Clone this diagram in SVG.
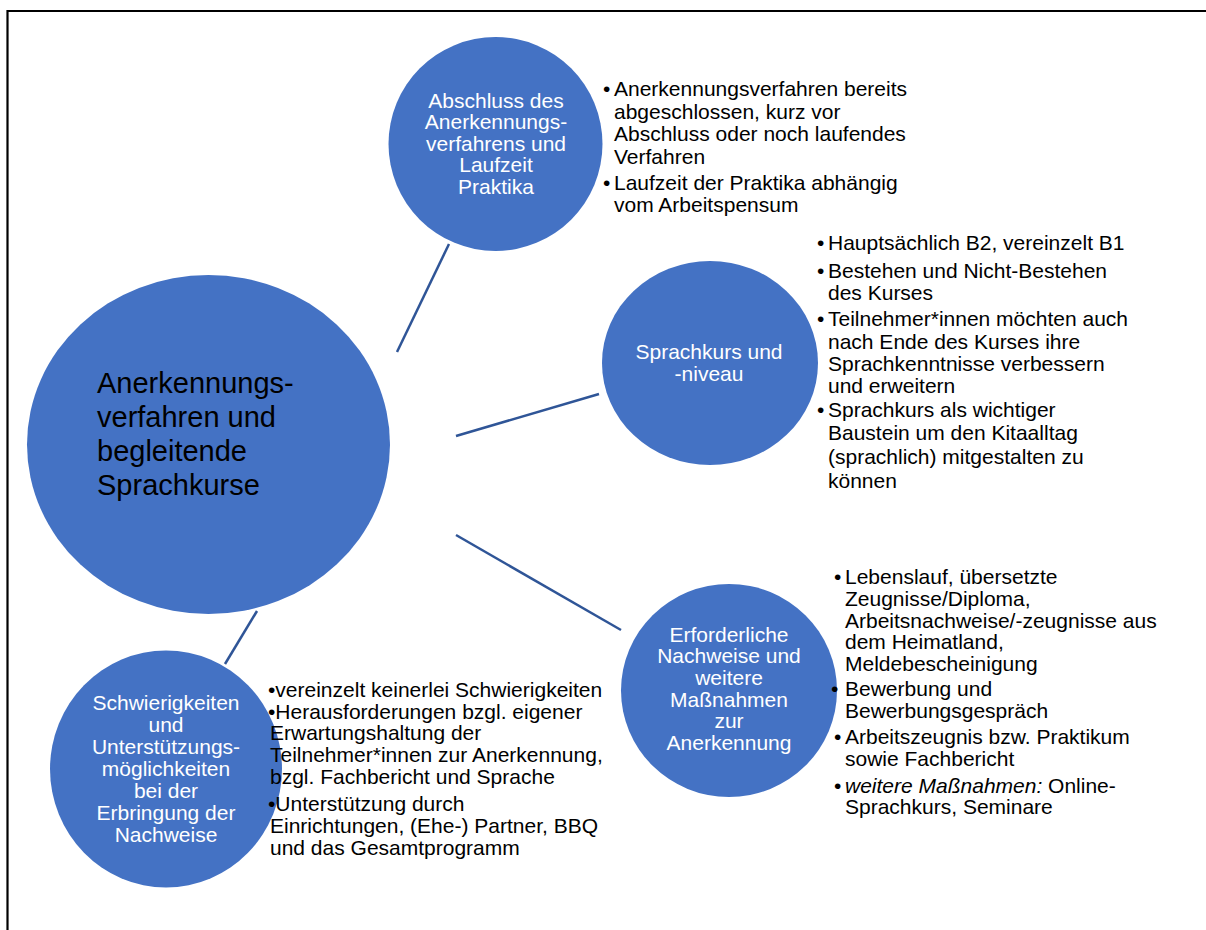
<svg xmlns="http://www.w3.org/2000/svg" width="1206" height="930" viewBox="0 0 1206 930">
<style>
.node{fill:#4472C4;}
.ct{font-family:"Liberation Sans",Arial,sans-serif;font-size:21px;fill:#ffffff;text-anchor:middle;}
.main{font-family:"Liberation Sans",Arial,sans-serif;font-size:29px;fill:#000000;}
.lt{font-family:"Liberation Sans",Arial,sans-serif;font-size:21px;fill:#000000;}
.edge{stroke:#2F5597;stroke-width:2.5;fill:none;}
</style>
<rect width="1206" height="930" fill="#ffffff"/>
<path d="M7.5,930 V11 H1206" stroke="#000000" stroke-width="2.2" fill="none"/>
<g id="connectors">
<line class="edge" x1="397" y1="352" x2="449" y2="244"/>
<line class="edge" x1="456" y1="436" x2="599" y2="394"/>
<line class="edge" x1="456" y1="535" x2="621" y2="630"/>
<line class="edge" x1="257" y1="611" x2="225" y2="664"/>
</g>
<g id="main">
<ellipse class="node" cx="208.5" cy="444.5" rx="181.5" ry="169.5"/>
<text class="main" x="97" y="393">Anerkennungs-</text>
<text class="main" x="97" y="427">verfahren und</text>
<text class="main" x="97" y="461">begleitende</text>
<text class="main" x="97" y="495">Sprachkurse</text>
</g>
<g id="abschluss">
<circle class="node" cx="495.5" cy="144" r="107"/>
<text class="ct" x="496" y="107.5">Abschluss des</text>
<text class="ct" x="496" y="129">Anerkennungs-</text>
<text class="ct" x="496" y="150.5">verfahrens und</text>
<text class="ct" x="496" y="172">Laufzeit</text>
<text class="ct" x="496" y="193.5">Praktika</text>
</g>
<g id="abschluss-text">
<text class="lt" x="603" y="96">•</text>
<text class="lt" x="614" y="96">Anerkennungsverfahren bereits</text>
<text class="lt" x="614" y="118.5">abgeschlossen, kurz vor</text>
<text class="lt" x="614" y="141">Abschluss oder noch laufendes</text>
<text class="lt" x="614" y="163.5">Verfahren</text>
<text class="lt" x="603" y="189.5">•</text>
<text class="lt" x="614" y="189.5">Laufzeit der Praktika abhängig</text>
<text class="lt" x="614" y="212">vom Arbeitspensum</text>
</g>
<g id="sprachkurs">
<ellipse class="node" cx="710" cy="363" rx="108" ry="102"/>
<text class="ct" x="709" y="359">Sprachkurs und</text>
<text class="ct" x="709" y="380.5">-niveau</text>
</g>
<g id="sprachkurs-text">
<text class="lt" x="817" y="250">•</text>
<text class="lt" x="828" y="250">Hauptsächlich B2, vereinzelt B1</text>
<text class="lt" x="817" y="278">•</text>
<text class="lt" x="828" y="278">Bestehen und Nicht-Bestehen</text>
<text class="lt" x="828" y="300">des Kurses</text>
<text class="lt" x="817" y="326">•</text>
<text class="lt" x="828" y="326">Teilnehmer*innen möchten auch</text>
<text class="lt" x="828" y="348.5">nach Ende des Kurses ihre</text>
<text class="lt" x="828" y="371">Sprachkenntnisse verbessern</text>
<text class="lt" x="828" y="393">und erweitern</text>
<text class="lt" x="817" y="417">•</text>
<text class="lt" x="828" y="417">Sprachkurs als wichtiger</text>
<text class="lt" x="828" y="440">Baustein um den Kitaalltag</text>
<text class="lt" x="828" y="464">(sprachlich) mitgestalten zu</text>
<text class="lt" x="828" y="488">können</text>
</g>
<g id="nachweise">
<ellipse class="node" cx="729" cy="690.5" rx="108" ry="106.5"/>
<text class="ct" x="729" y="641.5">Erforderliche</text>
<text class="ct" x="729" y="663">Nachweise und</text>
<text class="ct" x="729" y="684.5">weitere</text>
<text class="ct" x="729" y="706.5">Maßnahmen</text>
<text class="ct" x="729" y="728">zur</text>
<text class="ct" x="729" y="750">Anerkennung</text>
</g>
<g id="nachweise-text">
<text class="lt" x="834" y="584">•</text>
<text class="lt" x="845" y="584">Lebenslauf, übersetzte</text>
<text class="lt" x="845" y="606">Zeugnisse/Diploma,</text>
<text class="lt" x="845" y="627.5">Arbeitsnachweise/-zeugnisse aus</text>
<text class="lt" x="845" y="649">dem Heimatland,</text>
<text class="lt" x="845" y="671">Meldebescheinigung</text>
<text class="lt" x="831" y="696">•</text>
<text class="lt" x="845" y="696">Bewerbung und</text>
<text class="lt" x="845" y="718">Bewerbungsgespräch</text>
<text class="lt" x="834" y="744">•</text>
<text class="lt" x="845" y="744">Arbeitszeugnis bzw. Praktikum</text>
<text class="lt" x="845" y="766">sowie Fachbericht</text>
<text class="lt" x="834" y="793">•</text>
<text class="lt" x="845" y="793"><tspan font-style="italic">weitere Maßnahmen:</tspan> Online-</text>
<text class="lt" x="845" y="814">Sprachkurs, Seminare</text>
</g>
<g id="schwierigkeiten">
<ellipse class="node" cx="166" cy="769" rx="116" ry="118.5"/>
<text class="ct" x="166" y="710">Schwierigkeiten</text>
<text class="ct" x="166" y="731.5">und</text>
<text class="ct" x="166" y="753.5">Unterstützungs-</text>
<text class="ct" x="166" y="775.5">möglichkeiten</text>
<text class="ct" x="166" y="797.5">bei der</text>
<text class="ct" x="166" y="819.5">Erbringung der</text>
<text class="ct" x="166" y="841.5">Nachweise</text>
</g>
<g id="schwierigkeiten-text">
<text class="lt" x="268" y="697">•vereinzelt keinerlei Schwierigkeiten</text>
<text class="lt" x="268" y="719">•Herausforderungen bzgl. eigener</text>
<text class="lt" x="270" y="740">Erwartungshaltung der</text>
<text class="lt" x="270" y="762">Teilnehmer*innen zur Anerkennung,</text>
<text class="lt" x="270" y="784">bzgl. Fachbericht und Sprache</text>
<text class="lt" x="268" y="811">•Unterstützung durch</text>
<text class="lt" x="270" y="833">Einrichtungen, (Ehe-) Partner, BBQ</text>
<text class="lt" x="270" y="855">und das Gesamtprogramm</text>
</g>
</svg>
